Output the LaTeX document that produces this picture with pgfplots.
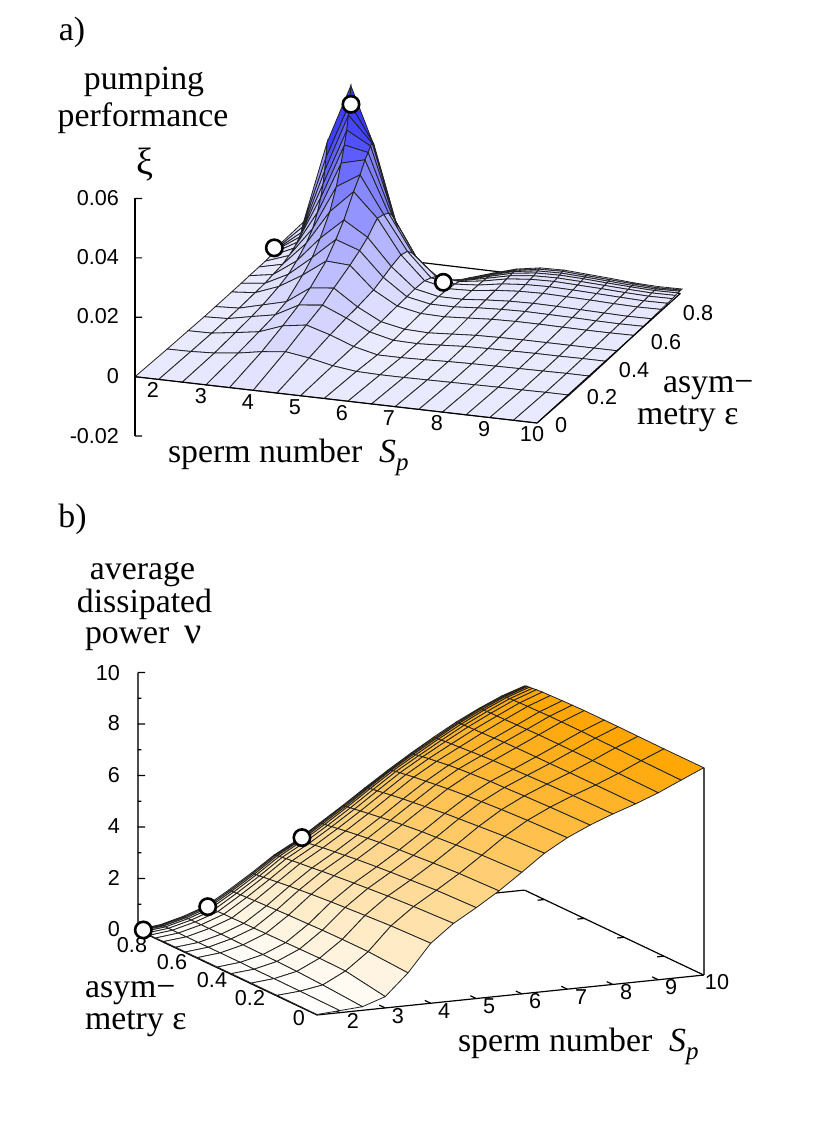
\documentclass[border=0pt]{standalone}
\usepackage{pgfplots}
\pgfplotsset{compat=1.18}
\usepackage{fontspec}
\setmainfont{Liberation Serif}
\newfontfamily\tk{Liberation Sans}
\newcommand\lab{\fontsize{33.8}{36}\selectfont}
\newcommand\gre{\fontsize{38}{40}\selectfont}
\newcommand\tkf{\tk\fontsize{21.6}{24}\selectfont}
\newcommand\Sp{\textit{S}\raisebox{-.22em}{\fontsize{25}{26}\selectfont\textit{p}}}
\definecolor{meshc}{rgb}{.13,.13,.13}
\pgfplotsset{
  colormap={bl}{rgb255=(255,255,255) rgb255=(0,0,255)},
  colormap={or}{rgb255=(255,255,255) rgb255=(255,165,0)},
  axl/.style={black,line width=1.2pt,no marks,solid},
  gry/.style={black!70,line width=1.6pt,no marks,solid},
  circ/.style={only marks,mark=*,mark size=8.2pt,mark options={fill=white,draw=black,line width=2.6pt}},
}
\newcommand\seg[2]{\addplot3[axl] coordinates {#1 #2};}
\begin{document}
\begin{tikzpicture}[x=1pt,y=1pt]
\path (0,0) rectangle (830,1121);
% ---------- panel a
\begin{axis}[anchor=origin,at={(130.27pt,744.845pt)},
  x={(47.3pt,-5.45pt)},y={(161pt,145.6pt)},z={(0pt,2970pt)},
  xmin=1.4,xmax=10,ymin=0,ymax=.9,zmin=-.02,zmax=.06,
  hide axis,clip=false]
\seg{(1.5,0,-.02)}{(1.5,0,.06)}
\seg{(1.5,0,-.02)}{(1.648,0,-.01973)}
\seg{(1.5,0,0)}{(1.648,0,.00027)}
\seg{(1.5,0,.02)}{(1.648,0,.02027)}
\seg{(1.5,0,.04)}{(1.648,0,.04027)}
\seg{(1.5,0,.06)}{(1.648,0,.06027)}
\seg{(1.5,.9,0)}{(10,.89,0)}
\addplot3[surf,shader=flat,draw=meshc,line width=.8pt,mesh/ordering=y varies,mesh/rows=16,z buffer=sort,
  point meta=z,point meta min=-.006,point meta max=.0606,colormap name=bl] coordinates {
(1.5,0,0)(1.5,.2,-.0005)(1.5,.33,-.0007)(1.5,.43,-.0009)(1.5,.5,-.0009)(1.5,.6,-.0009)(1.5,.66,-.0009)(1.5,.71,-.0008)(1.5,.77,-.0008)(1.5,.81,-.0008)(1.5,.84,-.0006)(1.5,.86,-.0005)(1.5,.875,-.0003)(1.5,.885,-.0002)(1.5,.893,0)(1.5,.9,.0005)

(2,0,0)(2,.2,-.0004)(2,.33,-.0006)(2,.43,-.0006)(2,.5,-.0005)(2,.6,-.0002)(2,.66,0)(2,.71,.0005)(2,.77,.001)(2,.81,.002)(2,.84,.003)(2,.86,.004)(2,.875,.005)(2,.885,.006)(2,.893,.0075)(2,.9,.0089)

(2.5,0,0)(2.5,.2,0)(2.5,.33,.0005)(2.5,.43,.001)(2.5,.5,.0015)(2.5,.6,.0028)(2.5,.66,.004)(2.5,.71,.006)(2.5,.77,.009)(2.5,.81,.012)(2.5,.84,.016)(2.5,.86,.02)(2.5,.875,.024)(2.5,.885,.028)(2.5,.893,.032)(2.5,.9,.0367)

(3,0,0)(3,.2,.0009)(3,.33,.0017)(3,.43,.0025)(3,.5,.0035)(3,.6,.0075)(3,.66,.0105)(3,.71,.0146)(3,.77,.0206)(3,.81,.027)(3,.84,.0335)(3,.86,.0386)(3,.875,.0429)(3,.885,.0475)(3,.893,.0512)(3,.9,.0566)

(3.5,0,0)(3.5,.2,.0023)(3.5,.33,.0046)(3.5,.43,.0067)(3.5,.5,.009)(3.5,.6,.0132)(3.5,.66,.0175)(3.5,.71,.0216)(3.5,.77,.0282)(3.5,.81,.0319)(3.5,.84,.0355)(3.5,.86,.037)(3.5,.875,.0385)(3.5,.885,.039)(3.5,.893,.0385)(3.5,.9,.037)

(4,0,0)(4,.2,.0032)(4,.33,.0058)(4,.43,.0076)(4,.5,.0099)(4,.6,.0127)(4,.66,.0147)(4,.71,.0167)(4,.77,.0202)(4,.81,.0195)(4,.84,.0185)(4,.86,.017)(4,.875,.015)(4,.885,.013)(4,.893,.0115)(4,.9,.0099)

(4.5,0,0)(4.5,.2,.002)(4.5,.33,.0034)(4.5,.43,.0042)(4.5,.5,.0045)(4.5,.6,.0053)(4.5,.66,.0066)(4.5,.71,.0078)(4.5,.77,.0088)(4.5,.81,.008)(4.5,.84,.006)(4.5,.86,.004)(4.5,.875,.002)(4.5,.885,0)(4.5,.893,-.002)(4.5,.9,-.0034)

(5,0,0)(5,.2,.0003)(5,.33,.0004)(5,.43,.0004)(5,.5,.0004)(5,.6,.0008)(5,.66,.001)(5,.71,.0012)(5,.77,.001)(5,.81,0)(5,.84,-.001)(5,.86,-.003)(5,.875,-.004)(5,.885,-.005)(5,.893,-.0055)(5,.9,-.0061)

(5.5,0,0)(5.5,.2,-.0007)(5.5,.33,-.0015)(5.5,.43,-.0015)(5.5,.5,-.0012)(5.5,.6,-.0008)(5.5,.66,-.0006)(5.5,.71,-.0005)(5.5,.77,-.0008)(5.5,.81,-.0012)(5.5,.84,-.0018)(5.5,.86,-.0024)(5.5,.875,-.0029)(5.5,.885,-.0032)(5.5,.893,-.0034)(5.5,.9,-.0035)

(6,0,0)(6,.2,-.0009)(6,.33,-.0015)(6,.43,-.0017)(6,.5,-.0015)(6,.6,-.001)(6,.66,-.0006)(6,.71,-.0005)(6,.77,-.0005)(6,.81,-.0006)(6,.84,-.0007)(6,.86,-.0008)(6,.875,-.0009)(6,.885,-.0009)(6,.893,-.001)(6,.9,-.001)

(6.5,0,0)(6.5,.2,-.0009)(6.5,.33,-.0013)(6.5,.43,-.0013)(6.5,.5,-.001)(6.5,.6,-.0005)(6.5,.66,0)(6.5,.71,.0002)(6.5,.77,.0005)(6.5,.81,.0007)(6.5,.84,.0009)(6.5,.86,.001)(6.5,.875,.0011)(6.5,.885,.0012)(6.5,.893,.0012)(6.5,.9,.0013)

(7,0,0)(7,.2,-.0008)(7,.33,-.001)(7,.43,-.0008)(7,.5,-.0005)(7,.6,0)(7,.66,.0004)(7,.71,.0007)(7,.77,.0011)(7,.81,.0014)(7,.84,.0017)(7,.86,.0019)(7,.875,.0021)(7,.885,.0023)(7,.893,.0025)(7,.9,.0026)

(7.5,0,0)(7.5,.2,-.0007)(7.5,.33,-.0008)(7.5,.43,-.0006)(7.5,.5,-.0003)(7.5,.6,.0002)(7.5,.66,.0006)(7.5,.71,.0009)(7.5,.77,.0013)(7.5,.81,.0016)(7.5,.84,.0019)(7.5,.86,.0021)(7.5,.875,.0023)(7.5,.885,.0025)(7.5,.893,.0027)(7.5,.9,.0028)

(8,0,0)(8,.2,-.0006)(8,.33,-.0007)(8,.43,-.0005)(8,.5,-.0002)(8,.6,.0002)(8,.66,.0005)(8,.71,.0008)(8,.77,.0011)(8,.81,.0014)(8,.84,.0016)(8,.86,.0018)(8,.875,.002)(8,.885,.0021)(8,.893,.0022)(8,.9,.0023)

(8.5,0,0)(8.5,.2,-.0005)(8.5,.33,-.0006)(8.5,.43,-.0004)(8.5,.5,-.0002)(8.5,.6,.0001)(8.5,.66,.0004)(8.5,.71,.0006)(8.5,.77,.0009)(8.5,.81,.0011)(8.5,.84,.0013)(8.5,.86,.0014)(8.5,.875,.0015)(8.5,.885,.0016)(8.5,.893,.0017)(8.5,.9,.0018)

(9,0,0)(9,.2,-.0005)(9,.33,-.0005)(9,.43,-.0004)(9,.5,-.0002)(9,.6,0)(9,.66,.0002)(9,.71,.0004)(9,.77,.0006)(9,.81,.0008)(9,.84,.0009)(9,.86,.001)(9,.875,.0011)(9,.885,.0011)(9,.893,.0012)(9,.9,.0012)

(9.5,0,0)(9.5,.2,-.0004)(9.5,.33,-.0004)(9.5,.43,-.0003)(9.5,.5,-.0002)(9.5,.6,0)(9.5,.66,.0001)(9.5,.71,.0002)(9.5,.77,.0004)(9.5,.81,.0005)(9.5,.84,.0006)(9.5,.86,.0007)(9.5,.875,.0008)(9.5,.885,.0008)(9.5,.893,.0008)(9.5,.9,.0009)

(10,0,0)(10,.2,-.0004)(10,.33,-.0004)(10,.43,-.0003)(10,.5,-.0002)(10,.6,.0001)(10,.66,.0002)(10,.71,.0003)(10,.77,.0005)(10,.81,.0006)(10,.84,.0007)(10,.86,.0008)(10,.875,.0009)(10,.885,.001)(10,.893,.001)(10,.9,.001)
};
\seg{(1.5,0,0)}{(10,0,0)}
\seg{(10,0,0)}{(10,.89,0)}
\addplot3[circ] coordinates {(1.484,.87,.0007)(3.105,.87,.052)(5.057,.87,-.00434)};
\end{axis}
% ---------- panel b
\begin{axis}[anchor=origin,at={(317pt,106pt)},
  x={(45.5pt,4.7pt)},y={(-199.2pt,94.4pt)},z={(0pt,25.75pt)},
  xmin=1.5,xmax=10,ymin=0,ymax=.9,zmin=-.5,zmax=10,
  hide axis,clip=false]
\addplot3[gry] coordinates {(1.5,.9,0)(1.5,.9,10)};
\seg{(1.5,.9,0)}{(1.665,.9,-.03)}
\seg{(1.5,.9,1)}{(1.58,.9,.985)}
\seg{(1.5,.9,2)}{(1.665,.9,1.97)}
\seg{(1.5,.9,3)}{(1.58,.9,2.985)}
\seg{(1.5,.9,4)}{(1.665,.9,3.97)}
\seg{(1.5,.9,5)}{(1.58,.9,4.985)}
\seg{(1.5,.9,6)}{(1.665,.9,5.97)}
\seg{(1.5,.9,7)}{(1.58,.9,6.985)}
\seg{(1.5,.9,8)}{(1.665,.9,7.97)}
\seg{(1.5,.9,9)}{(1.58,.9,8.985)}
\seg{(1.5,.9,10)}{(1.665,.9,9.97)}
\addplot3[gry] coordinates {(10,0,0)(10,0,8.05)};
\seg{(1.5,0,0)}{(10,0,0)}
\seg{(1.5,0,0)}{(1.5,.9,0)}
\seg{(10,0,0)}{(10,.9,0)}
\seg{(1.5,.9,0)}{(10,.9,0)}
\seg{(2,0,0)}{(2,.03,0)}
\seg{(3,0,0)}{(3,.03,0)}
\seg{(4,0,0)}{(4,.03,0)}
\seg{(5,0,0)}{(5,.03,0)}
\seg{(6,0,0)}{(6,.03,0)}
\seg{(7,0,0)}{(7,.03,0)}
\seg{(8,0,0)}{(8,.03,0)}
\seg{(9,0,0)}{(9,.03,0)}
\seg{(10,.2,0)}{(9.85,.2,0)}
\seg{(10,.4,0)}{(9.85,.4,0)}
\seg{(10,.6,0)}{(9.85,.6,0)}
\seg{(10,.8,0)}{(9.85,.8,0)}
\addplot3[surf,shader=flat,draw=meshc,line width=.8pt,mesh/ordering=y varies,mesh/rows=16,z buffer=sort,
  point meta=z,point meta min=0,point meta max=8.07,colormap name=or] coordinates {
(1.5,0,.02)(1.5,.2,.03)(1.5,.33,.03)(1.5,.43,.03)(1.5,.5,.03)(1.5,.6,.03)(1.5,.66,.03)(1.5,.71,.03)(1.5,.77,.03)(1.5,.81,.02)(1.5,.84,.02)(1.5,.86,.02)(1.5,.875,.02)(1.5,.885,.02)(1.5,.893,.02)(1.5,.9,.02)

(2,0,.08)(2,.2,.1)(2,.33,.11)(2,.43,.11)(2,.5,.12)(2,.6,.12)(2,.66,.12)(2,.71,.12)(2,.77,.12)(2,.81,.12)(2,.84,.12)(2,.86,.12)(2,.875,.12)(2,.885,.12)(2,.893,.12)(2,.9,.12)

(2.5,0,.14)(2.5,.2,.25)(2.5,.33,.3)(2.5,.43,.32)(2.5,.5,.33)(2.5,.6,.34)(2.5,.66,.35)(2.5,.71,.35)(2.5,.77,.35)(2.5,.81,.35)(2.5,.84,.35)(2.5,.86,.35)(2.5,.875,.35)(2.5,.885,.35)(2.5,.893,.35)(2.5,.9,.35)

(3,0,.44)(3,.2,.7)(3,.33,.72)(3,.43,.71)(3,.5,.7)(3,.6,.69)(3,.66,.68)(3,.71,.68)(3,.77,.67)(3,.81,.67)(3,.84,.66)(3,.86,.66)(3,.875,.66)(3,.885,.66)(3,.893,.66)(3,.9,.66)

(3.5,0,1.27)(3.5,.2,1.36)(3.5,.33,1.36)(3.5,.43,1.35)(3.5,.5,1.33)(3.5,.6,1.31)(3.5,.66,1.29)(3.5,.71,1.27)(3.5,.77,1.25)(3.5,.81,1.23)(3.5,.84,1.22)(3.5,.86,1.21)(3.5,.875,1.2)(3.5,.885,1.195)(3.5,.893,1.19)(3.5,.9,1.19)

(4,0,2.33)(4,.2,2.27)(4,.33,2.2)(4,.43,2.14)(4,.5,2.1)(4,.6,2.03)(4,.66,1.98)(4,.71,1.94)(4,.77,1.88)(4,.81,1.84)(4,.84,1.81)(4,.86,1.79)(4,.875,1.78)(4,.885,1.77)(4,.893,1.765)(4,.9,1.76)

(4.5,0,3.01)(4.5,.2,2.93)(4.5,.33,2.86)(4.5,.43,2.79)(4.5,.5,2.74)(4.5,.6,2.66)(4.5,.66,2.61)(4.5,.71,2.56)(4.5,.77,2.51)(4.5,.81,2.47)(4.5,.84,2.44)(4.5,.86,2.42)(4.5,.875,2.4)(4.5,.885,2.39)(4.5,.893,2.38)(4.5,.9,2.37)

(5,0,3.53)(5,.2,3.47)(5,.33,3.39)(5,.43,3.33)(5,.5,3.28)(5,.6,3.2)(5,.66,3.14)(5,.71,3.09)(5,.77,3.03)(5,.81,2.98)(5,.84,2.94)(5,.86,2.92)(5,.875,2.9)(5,.885,2.88)(5,.893,2.86)(5,.9,2.85)

(5.5,0,4.09)(5.5,.2,4.03)(5.5,.33,3.96)(5.5,.43,3.89)(5.5,.5,3.85)(5.5,.6,3.77)(5.5,.66,3.71)(5.5,.71,3.66)(5.5,.77,3.59)(5.5,.81,3.54)(5.5,.84,3.5)(5.5,.86,3.48)(5.5,.875,3.46)(5.5,.885,3.45)(5.5,.893,3.44)(5.5,.9,3.43)

(6,0,4.72)(6,.2,4.65)(6,.33,4.57)(6,.43,4.5)(6,.5,4.46)(6,.6,4.37)(6,.66,4.31)(6,.71,4.25)(6,.77,4.18)(6,.81,4.13)(6,.84,4.09)(6,.86,4.07)(6,.875,4.05)(6,.885,4.03)(6,.893,4.02)(6,.9,4.01)

(6.5,0,5.37)(6.5,.2,5.29)(6.5,.33,5.2)(6.5,.43,5.13)(6.5,.5,5.08)(6.5,.6,4.98)(6.5,.66,4.92)(6.5,.71,4.87)(6.5,.77,4.8)(6.5,.81,4.75)(6.5,.84,4.71)(6.5,.86,4.69)(6.5,.875,4.67)(6.5,.885,4.65)(6.5,.893,4.63)(6.5,.9,4.62)

(7,0,5.88)(7,.2,5.82)(7,.33,5.76)(7,.43,5.7)(7,.5,5.66)(7,.6,5.58)(7,.66,5.52)(7,.71,5.47)(7,.77,5.41)(7,.81,5.36)(7,.84,5.32)(7,.86,5.3)(7,.875,5.27)(7,.885,5.25)(7,.893,5.23)(7,.9,5.21)

(7.5,0,6.28)(7.5,.2,6.24)(7.5,.33,6.2)(7.5,.43,6.16)(7.5,.5,6.14)(7.5,.6,6.08)(7.5,.66,6.04)(7.5,.71,6)(7.5,.77,5.93)(7.5,.81,5.89)(7.5,.84,5.85)(7.5,.86,5.82)(7.5,.875,5.8)(7.5,.885,5.79)(7.5,.893,5.78)(7.5,.9,5.77)

(8,0,6.62)(8,.2,6.6)(8,.33,6.57)(8,.43,6.54)(8,.5,6.52)(8,.6,6.49)(8,.66,6.46)(8,.71,6.43)(8,.77,6.39)(8,.81,6.37)(8,.84,6.35)(8,.86,6.33)(8,.875,6.32)(8,.885,6.31)(8,.893,6.3)(8,.9,6.3)

(8.5,0,6.92)(8.5,.2,6.92)(8.5,.33,6.92)(8.5,.43,6.91)(8.5,.5,6.91)(8.5,.6,6.9)(8.5,.66,6.89)(8.5,.71,6.87)(8.5,.77,6.85)(8.5,.81,6.84)(8.5,.84,6.83)(8.5,.86,6.82)(8.5,.875,6.81)(8.5,.885,6.81)(8.5,.893,6.8)(8.5,.9,6.8)

(9,0,7.26)(9,.2,7.28)(9,.33,7.3)(9,.43,7.31)(9,.5,7.31)(9,.6,7.31)(9,.66,7.3)(9,.71,7.29)(9,.77,7.28)(9,.81,7.27)(9,.84,7.27)(9,.86,7.26)(9,.875,7.26)(9,.885,7.25)(9,.893,7.25)(9,.9,7.24)

(9.5,0,7.66)(9.5,.2,7.68)(9.5,.33,7.7)(9.5,.43,7.71)(9.5,.5,7.72)(9.5,.6,7.72)(9.5,.66,7.72)(9.5,.71,7.71)(9.5,.77,7.7)(9.5,.81,7.69)(9.5,.84,7.68)(9.5,.86,7.67)(9.5,.875,7.66)(9.5,.885,7.65)(9.5,.893,7.64)(9.5,.9,7.63)

(10,0,8.05)(10,.2,8.05)(10,.33,8.06)(10,.43,8.07)(10,.5,8.07)(10,.6,8.07)(10,.66,8.06)(10,.71,8.05)(10,.77,8.03)(10,.81,8.02)(10,.84,8)(10,.86,7.98)(10,.875,7.97)(10,.885,7.96)(10,.893,7.95)(10,.9,7.93)
};
\addplot3[circ] coordinates {(1.623,.9,-.02)(3.038,.9,.625)(5.11,.9,2.93)};
\end{axis}
% ---------- texts, in pixel coordinates of the reference
\begin{scope}[x=1pt,y=-1pt,yshift=1121pt,every node/.style={inner sep=0pt,outer sep=0pt}]
\node[anchor=base] at (72,40.5) {\lab a)};
\node[anchor=base] at (144,90) {\lab pumping};
\node[anchor=base] at (143,127) {\lab performance};
\node[anchor=base] at (145,175) {\gre ξ};
\node[anchor=east] at (119,198) {\tkf 0.06};
\node[anchor=east] at (119,257) {\tkf 0.04};
\node[anchor=east] at (119,316) {\tkf 0.02};
\node[anchor=east] at (119,376) {\tkf 0};
\node[anchor=east] at (119,436) {\tkf -0.02};
\node at (153,390) {\tkf 2};
\node at (201,396) {\tkf 3};
\node at (248,402) {\tkf 4};
\node at (295,407) {\tkf 5};
\node at (342,413) {\tkf 6};
\node at (389,418) {\tkf 7};
\node at (437,423) {\tkf 8};
\node at (484,429) {\tkf 9};
\node at (532,434) {\tkf 10};
\node at (561,425) {\tkf 0};
\node at (602,397) {\tkf 0.2};
\node at (634,370) {\tkf 0.4};
\node at (666,342) {\tkf 0.6};
\node at (698,313) {\tkf 0.8};
\node[anchor=base west] at (663,393) {\lab asym−};
\node[anchor=base west] at (637,425) {\lab metry ε};
\node[anchor=base west] at (168,463) {\lab sperm number\ \ \Sp};
\node[anchor=base] at (72.5,528) {\lab b)};
\node[anchor=base] at (142.5,580) {\lab average};
\node[anchor=base] at (144.5,613) {\lab dissipated};
\node[anchor=base west] at (85,644) {\lab power};
\node[anchor=base west] at (184,644) {\gre ν};
\node[anchor=east] at (120,673) {\tkf 10};
\node[anchor=east] at (120,723) {\tkf 8};
\node[anchor=east] at (120,775) {\tkf 6};
\node[anchor=east] at (120,826) {\tkf 4};
\node[anchor=east] at (120,878) {\tkf 2};
\node[anchor=east] at (120,929) {\tkf 0};
\node at (132,945) {\tkf 0.8};
\node at (172,962) {\tkf 0.6};
\node at (212,980) {\tkf 0.4};
\node at (250,998) {\tkf 0.2};
\node at (299,1018) {\tkf 0};
\node at (353,1021) {\tkf 2};
\node at (398,1016) {\tkf 3};
\node at (444,1011) {\tkf 4};
\node at (489,1006) {\tkf 5};
\node at (535,1001) {\tkf 6};
\node at (581,997) {\tkf 7};
\node at (626,992) {\tkf 8};
\node at (671,987) {\tkf 9};
\node at (717,982) {\tkf 10};
\node[anchor=base west] at (85,998) {\lab asym−};
\node[anchor=base west] at (85,1030) {\lab metry ε};
\node[anchor=base west] at (458,1052) {\lab sperm number\ \ \Sp};
\end{scope}
\pgfresetboundingbox
\path[use as bounding box] (0,0) rectangle (830,1121);
\end{tikzpicture}
\end{document}
